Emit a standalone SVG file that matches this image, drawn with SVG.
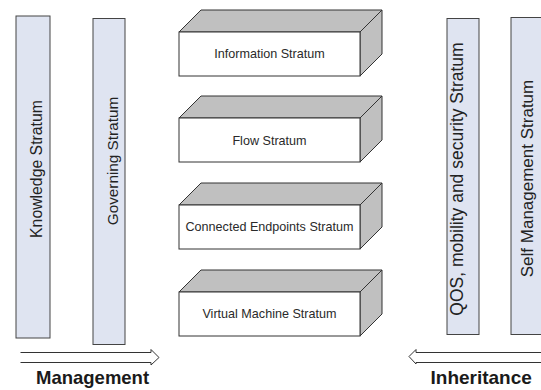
<svg xmlns="http://www.w3.org/2000/svg" width="541" height="390" viewBox="0 0 541 390">
  <style>
    .bar { fill: #dfe4f1; stroke: #444; stroke-width: 1; }
    .front { fill: #ffffff; stroke: #333; stroke-width: 1; }
    .side { fill: #c0c0c0; stroke: #333; stroke-width: 1; stroke-linejoin: round; }
    .lbl { font-family: "Liberation Sans", Arial, sans-serif; fill: #222; }
    .box-lbl { font-family: "Liberation Sans", Arial, sans-serif; font-size: 12.6px; fill: #2a2a2a; text-anchor: middle; }
    .title { font-family: "Liberation Sans", Arial, sans-serif; font-weight: bold; fill: #1a1a1a; }
    .arrow { fill: #ffffff; stroke: #333; stroke-width: 1; stroke-linejoin: miter; }
  </style>
  <defs>
    <!-- one strata block: gray top and right faces, white front face -->
    <g id="block">
      <polygon class="side" points="0,22 22,0 203,0 181,22"/>
      <polygon class="side" points="181,22 203,0 203,44 181,66"/>
      <rect class="front" x="0" y="22" width="181" height="44"/>
    </g>
  </defs>
  <rect width="541" height="390" fill="#ffffff"/>

  <!-- left vertical strata -->
  <g id="knowledge">
    <rect class="bar" x="16" y="16" width="34" height="322"/>
    <text class="lbl" font-size="15.8" text-anchor="middle" x="42" y="169" transform="rotate(-90 42 169)">Knowledge Stratum</text>
  </g>
  <g id="governing">
    <rect class="bar" x="93" y="18.5" width="32" height="326"/>
    <text class="lbl" font-size="15.3" text-anchor="middle" x="117.5" y="161" transform="rotate(-90 117.5 161)">Governing Stratum</text>
  </g>

  <!-- central strata blocks -->
  <g id="information">
    <use href="#block" x="179" y="10"/>
    <text class="box-lbl" x="269.5" y="58">Information Stratum</text>
  </g>
  <g id="flow">
    <use href="#block" x="179" y="96"/>
    <text class="box-lbl" x="269.5" y="144.5">Flow Stratum</text>
  </g>
  <g id="connected-endpoints">
    <use href="#block" x="179" y="183"/>
    <text class="box-lbl" x="269.5" y="231">Connected Endpoints Stratum</text>
  </g>
  <g id="virtual-machine">
    <use href="#block" x="179" y="270"/>
    <text class="box-lbl" x="269.5" y="318">Virtual Machine Stratum</text>
  </g>

  <!-- right vertical strata -->
  <g id="qos">
    <rect class="bar" x="447" y="18.5" width="32" height="316"/>
    <text class="lbl" font-size="17.5" text-anchor="middle" x="462.5" y="179" transform="rotate(-90 462.5 179)">QOS, mobility and security Stratum</text>
  </g>
  <g id="self-management">
    <rect class="bar" x="511" y="17.5" width="36" height="317"/>
    <text class="lbl" font-size="17" text-anchor="middle" x="533" y="178.5" transform="rotate(-90 533 178.5)">Self Management Stratum</text>
  </g>

  <!-- direction arrows -->
  <g id="connectors">
    <path class="arrow" d="M20.5,352.5 H151 V349.5 L159,357.5 L151,365 V362.5 H20.5"/>
    <path class="arrow" d="M542,352.5 H416 V349.5 L409,356.5 L416,364 V362.5 H542"/>
  </g>

  <g id="management">
    <text class="title" font-size="18.5" x="36" y="384">Management</text>
  </g>
  <g id="inheritance">
    <text class="title" font-size="19" x="430.5" y="384">Inheritance</text>
  </g>
</svg>
